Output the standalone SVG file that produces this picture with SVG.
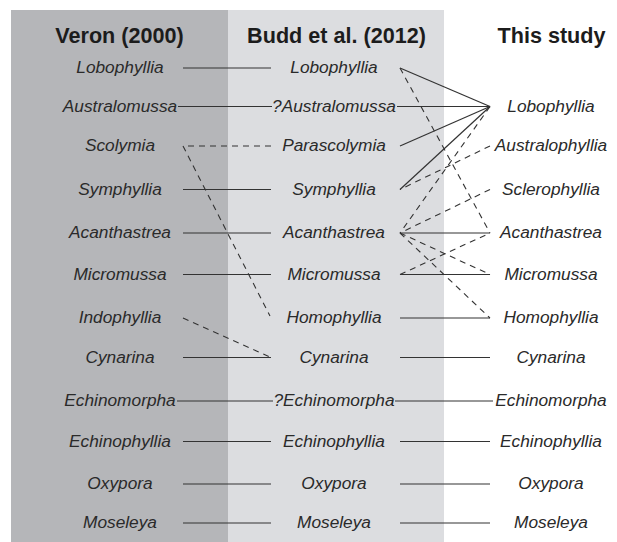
<svg xmlns="http://www.w3.org/2000/svg" width="617" height="542" viewBox="0 0 617 542">
<style>
.hd{font-family:"Liberation Sans",Arial,sans-serif;font-weight:bold;font-size:21.6px;fill:#1c1c1c;text-anchor:middle}
.lb{font-family:"Liberation Sans",Arial,sans-serif;font-style:italic;font-size:17.3px;fill:#2a2a2a;text-anchor:middle}
.s{stroke:#333;stroke-width:1.2;fill:none}
.d{stroke:#333;stroke-width:1.1;fill:none;stroke-dasharray:6,5}
</style>
<rect x="0" y="0" width="617" height="542" fill="#ffffff"/>
<g id="panels">
<rect x="11" y="10" width="217" height="532" fill="#b5b6b9"/>
<rect x="228" y="10" width="216" height="532" fill="#dcdde0"/>
</g>
<g id="headers">
<text class="hd" x="119.5" y="42.5">Veron (2000)</text>
<text class="hd" x="336.5" y="42.5">Budd et al. (2012)</text>
<text class="hd" x="551.5" y="42.5">This study</text>
</g>
<g id="connectors">
<line class="s" x1="183" y1="68" x2="271" y2="68"/>
<line class="s" x1="178" y1="106.5" x2="272" y2="106.5"/>
<line class="d" x1="271" y1="146" x2="183" y2="146"/>
<line class="d" x1="183" y1="146" x2="270" y2="316"/>
<line class="s" x1="183" y1="189.5" x2="271" y2="189.5"/>
<line class="s" x1="183" y1="233" x2="271" y2="233"/>
<line class="s" x1="183" y1="274.5" x2="271" y2="274.5"/>
<line class="d" x1="183" y1="318" x2="271" y2="357.5"/>
<line class="s" x1="183" y1="357.5" x2="271" y2="357.5"/>
<line class="s" x1="177" y1="401" x2="273" y2="401"/>
<line class="s" x1="183" y1="441.5" x2="271" y2="441.5"/>
<line class="s" x1="183" y1="484" x2="271" y2="484"/>
<line class="s" x1="183" y1="523" x2="271" y2="523"/>
<line class="s" x1="400" y1="68" x2="490" y2="106.5"/>
<line class="s" x1="397" y1="106.5" x2="490" y2="106.5"/>
<line class="s" x1="400" y1="146" x2="490" y2="106.5"/>
<line class="s" x1="400" y1="189.5" x2="490" y2="106.5"/>
<line class="d" x1="400" y1="68" x2="490" y2="233"/>
<line class="d" x1="490" y1="106.5" x2="400" y2="233"/>
<line class="d" x1="490" y1="146" x2="400" y2="189.5"/>
<line class="d" x1="490" y1="189.5" x2="400" y2="233"/>
<line class="s" x1="400" y1="233" x2="490" y2="233"/>
<line class="d" x1="400" y1="233" x2="490" y2="274.5"/>
<line class="d" x1="400" y1="233" x2="490" y2="318"/>
<line class="s" x1="400" y1="274.5" x2="490" y2="274.5"/>
<line class="d" x1="400" y1="274.5" x2="490" y2="233"/>
<line class="s" x1="400" y1="318" x2="490" y2="318"/>
<line class="s" x1="400" y1="357.5" x2="490" y2="357.5"/>
<line class="s" x1="395" y1="401" x2="493" y2="401"/>
<line class="s" x1="400" y1="441.5" x2="490" y2="441.5"/>
<line class="s" x1="400" y1="484" x2="490" y2="484"/>
<line class="s" x1="400" y1="523" x2="490" y2="523"/>
</g>
<g id="veron">
<g id="v-lobophyllia"><text class="lb" x="120" y="73">Lobophyllia</text></g>
<g id="v-australomussa"><text class="lb" x="120" y="111.5">Australomussa</text></g>
<g id="v-scolymia"><text class="lb" x="120" y="151">Scolymia</text></g>
<g id="v-symphyllia"><text class="lb" x="120" y="194.5">Symphyllia</text></g>
<g id="v-acanthastrea"><text class="lb" x="120" y="238">Acanthastrea</text></g>
<g id="v-micromussa"><text class="lb" x="120" y="279.5">Micromussa</text></g>
<g id="v-indophyllia"><text class="lb" x="120" y="323">Indophyllia</text></g>
<g id="v-cynarina"><text class="lb" x="120" y="362.5">Cynarina</text></g>
<g id="v-echinomorpha"><text class="lb" x="120" y="406">Echinomorpha</text></g>
<g id="v-echinophyllia"><text class="lb" x="120" y="446.5">Echinophyllia</text></g>
<g id="v-oxypora"><text class="lb" x="120" y="489">Oxypora</text></g>
<g id="v-moseleya"><text class="lb" x="120" y="528">Moseleya</text></g>
</g>
<g id="budd">
<g id="b-lobophyllia"><text class="lb" x="334" y="73">Lobophyllia</text></g>
<g id="b-australomussa"><text class="lb" x="334" y="111.5">?Australomussa</text></g>
<g id="b-parascolymia"><text class="lb" x="334" y="151">Parascolymia</text></g>
<g id="b-symphyllia"><text class="lb" x="334" y="194.5">Symphyllia</text></g>
<g id="b-acanthastrea"><text class="lb" x="334" y="238">Acanthastrea</text></g>
<g id="b-micromussa"><text class="lb" x="334" y="279.5">Micromussa</text></g>
<g id="b-homophyllia"><text class="lb" x="334" y="323">Homophyllia</text></g>
<g id="b-cynarina"><text class="lb" x="334" y="362.5">Cynarina</text></g>
<g id="b-echinomorpha"><text class="lb" x="334" y="406">?Echinomorpha</text></g>
<g id="b-echinophyllia"><text class="lb" x="334" y="446.5">Echinophyllia</text></g>
<g id="b-oxypora"><text class="lb" x="334" y="489">Oxypora</text></g>
<g id="b-moseleya"><text class="lb" x="334" y="528">Moseleya</text></g>
</g>
<g id="study">
<g id="s-lobophyllia"><text class="lb" x="551" y="111.5">Lobophyllia</text></g>
<g id="s-australophyllia"><text class="lb" x="551" y="151">Australophyllia</text></g>
<g id="s-sclerophyllia"><text class="lb" x="551" y="194.5">Sclerophyllia</text></g>
<g id="s-acanthastrea"><text class="lb" x="551" y="238">Acanthastrea</text></g>
<g id="s-micromussa"><text class="lb" x="551" y="279.5">Micromussa</text></g>
<g id="s-homophyllia"><text class="lb" x="551" y="323">Homophyllia</text></g>
<g id="s-cynarina"><text class="lb" x="551" y="362.5">Cynarina</text></g>
<g id="s-echinomorpha"><text class="lb" x="551" y="406">Echinomorpha</text></g>
<g id="s-echinophyllia"><text class="lb" x="551" y="446.5">Echinophyllia</text></g>
<g id="s-oxypora"><text class="lb" x="551" y="489">Oxypora</text></g>
<g id="s-moseleya"><text class="lb" x="551" y="528">Moseleya</text></g>
</g>
</svg>
